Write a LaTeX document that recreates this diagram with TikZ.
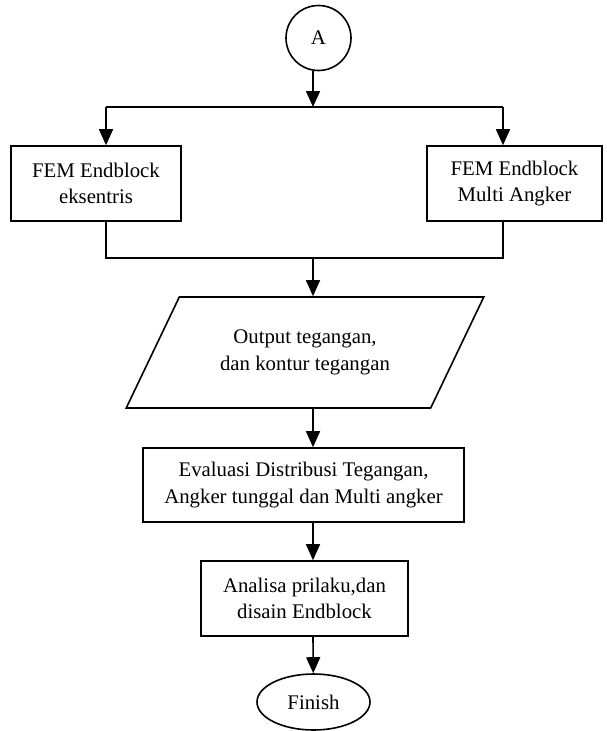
\documentclass[tikz,border=0pt]{standalone}
\usepackage{fontspec}
\setmainfont{Liberation Serif}
\usetikzlibrary{positioning}
\usetikzlibrary{shapes.geometric}
\usetikzlibrary{arrows.meta}

\tikzset{
  line/.style={line width=1.6pt, color=black},
  arr/.style={line, -{Triangle[width=14pt,length=16pt]}},
  procbox/.style={rectangle, draw=black, line width=1.6pt, inner sep=0pt, align=center,
    font=\fontsize{20.8}{26.5}\selectfont},
}

\begin{document}
\begin{tikzpicture}
\useasboundingbox (0pt, 0pt) rectangle (606pt, -731pt);
% connector and terminators
\node (A) [circle, draw=black, line width=1.6pt, minimum size=65pt, inner sep=0pt, font=\fontsize{20.8}{26.5}\selectfont] at (318.5pt, -38pt) {A};
\node (finish) [ellipse, draw=black, line width=1.6pt, minimum width=113pt, minimum height=56pt, inner sep=0pt, font=\fontsize{20.8}{26.5}\selectfont] at (313.5pt, -702pt) {Finish};
% process steps
\node (fem1) [procbox, minimum width=170pt, minimum height=75pt] at (96pt, -183.5pt) {FEM Endblock\\eksentris};
\node (fem2) [procbox, minimum width=175pt, minimum height=75pt] at (514.5pt, -183.5pt) {FEM Endblock\\Multi Angker};
\node (output) [trapezium, trapezium left angle=51.3, trapezium right angle=128.7, trapezium stretches=true,
  draw=black, line width=1.6pt, minimum width=358pt, minimum height=111pt, inner sep=0pt, align=center,
  font=\fontsize{20.8}{26.5}\selectfont] at (305pt, -352.5pt) {Output tegangan,\\dan kontur tegangan};
\node (eval) [procbox, minimum width=321pt, minimum height=74pt] at (303.5pt, -485pt) {Evaluasi Distribusi Tegangan,\\Angker tunggal dan Multi angker};
\node (analisa) [procbox, minimum width=207pt, minimum height=75pt] at (304.5pt, -598.5pt) {Analisa prilaku,dan\\disain Endblock};
% branch points
\coordinate (split) at (313pt, -107pt);
\coordinate (splitL) at (106pt, -107pt);
\coordinate (splitR) at (503pt, -107pt);
\coordinate (join) at (313pt, -258pt);
\coordinate (joinL) at (106pt, -258pt);
\coordinate (joinR) at (503pt, -258pt);
% connectors
\draw [arr] (A.south -| split) to (split);
\draw [line] (splitL) to (splitR);
\draw [arr] (splitL) to (splitL |- fem1.north);
\draw [arr] (splitR) to (splitR |- fem2.north);
\draw [line] (joinL |- fem1.south) to (joinL) to (joinR) to (joinR |- fem2.south);
\draw [arr] (join) to (join |- output.north);
\draw [arr] (join |- output.south) to (join |- eval.north);
\draw [arr] (join |- eval.south) to (join |- analisa.north);
\draw [arr] (join |- analisa.south) to (finish);
\end{tikzpicture}
\end{document}
